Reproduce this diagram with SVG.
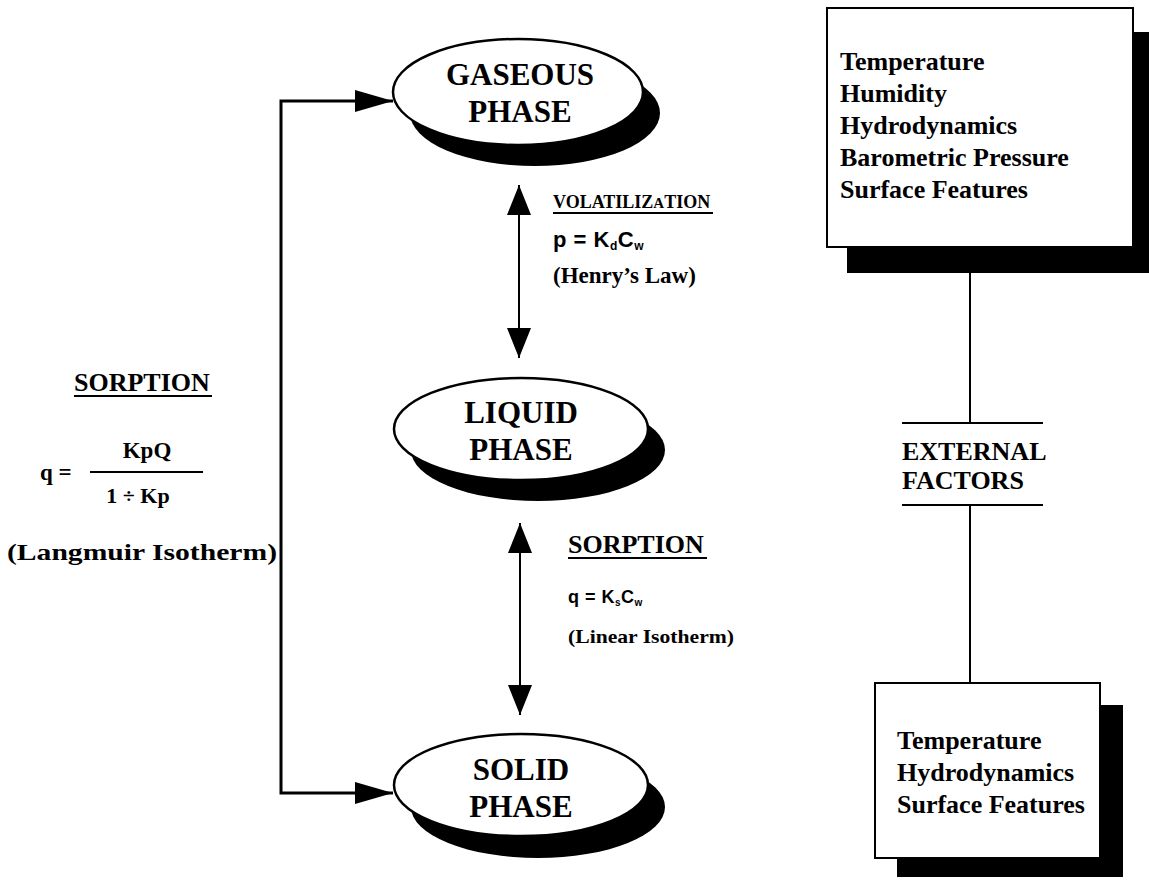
<svg xmlns="http://www.w3.org/2000/svg" width="1149" height="881" viewBox="0 0 1149 881">
<style>
.serif{font-family:"Liberation Serif","Times New Roman",serif;font-weight:bold;fill:#000}
.sans{font-family:"Liberation Sans",Arial,sans-serif;font-weight:bold;fill:#000}
.ph{font-size:31px;text-anchor:middle}
.lst{font-size:26px}
.ln{stroke:#000;fill:none}
.shadow{fill:#000}
.oval{fill:#fff;stroke:#000;stroke-width:2.5}
.box{fill:#fff;stroke:#000;stroke-width:2}
</style>
<defs>
<marker id="ahL" viewBox="0 0 38 22" refX="38" refY="11" markerWidth="38" markerHeight="22" markerUnits="userSpaceOnUse" orient="auto-start-reverse"><path d="M0,0 L38,11 L0,22 z" fill="#000"/></marker>
<marker id="ahV" viewBox="0 0 30 24" refX="30" refY="12" markerWidth="30" markerHeight="24" markerUnits="userSpaceOnUse" orient="auto-start-reverse"><path d="M0,0 L30,12 L0,24 z" fill="#000"/></marker>
</defs>
<rect width="1149" height="881" fill="#fff"/>

<g id="connectors">
<path class="ln" stroke-width="3" d="M393,101 H281 V793 H393" marker-start="url(#ahL)" marker-end="url(#ahL)"/>
<line class="ln" stroke-width="2" x1="519" y1="185" x2="519" y2="358" marker-start="url(#ahV)" marker-end="url(#ahV)"/>
<line class="ln" stroke-width="2" x1="520" y1="523" x2="520" y2="715" marker-start="url(#ahV)" marker-end="url(#ahV)"/>
<line class="ln" stroke-width="2" x1="970" y1="247" x2="970" y2="423"/>
<line class="ln" stroke-width="2" x1="902" y1="423" x2="1043" y2="423"/>
<line class="ln" stroke-width="2" x1="902" y1="505" x2="1043" y2="505"/>
<line class="ln" stroke-width="2" x1="970" y1="505" x2="970" y2="683"/>
</g>

<g id="gaseous">
<ellipse class="shadow" cx="535" cy="113" rx="125" ry="53"/>
<ellipse class="oval" cx="518" cy="92" rx="125" ry="53"/>
<text class="serif ph" x="520" y="85">GASEOUS</text>
<text class="serif ph" x="520" y="122">PHASE</text>
</g>

<g id="liquid">
<ellipse class="shadow" cx="538" cy="450" rx="127" ry="51"/>
<ellipse class="oval" cx="521" cy="429" rx="127" ry="51"/>
<text class="serif ph" x="521" y="423">LIQUID</text>
<text class="serif ph" x="521" y="460">PHASE</text>
</g>

<g id="solid">
<ellipse class="shadow" cx="538" cy="807" rx="127" ry="51"/>
<ellipse class="oval" cx="521" cy="785" rx="127" ry="51"/>
<text class="serif ph" x="521" y="780">SOLID</text>
<text class="serif ph" x="521" y="817">PHASE</text>
</g>

<g id="volatilization">
<text class="serif" x="553" y="208" font-size="18">VOLATILIZ<tspan font-size="15">A</tspan>TION</text>
<line class="ln" stroke-width="2" x1="553" y1="213" x2="713" y2="213"/>
<text class="sans" x="553" y="247" font-size="22" letter-spacing="0.5">p = K<tspan font-size="12" dy="3">d</tspan><tspan dy="-3">C</tspan><tspan font-size="12" dy="3">w</tspan></text>
<text class="serif" x="553" y="283" font-size="23">(Henry’s Law)</text>
</g>

<g id="sorption-mid">
<text class="serif" x="568" y="553" font-size="26">SORPTION</text>
<line class="ln" stroke-width="2" x1="568" y1="558" x2="707" y2="558"/>
<text class="sans" x="568" y="603" font-size="18" letter-spacing="0.5">q = K<tspan font-size="10" dy="3">s</tspan><tspan dy="-3">C</tspan><tspan font-size="10" dy="3">w</tspan></text>
<text class="serif" x="568" y="643" font-size="19" textLength="166" lengthAdjust="spacingAndGlyphs">(Linear Isotherm)</text>
</g>

<g id="sorption-left">
<text class="serif" x="74" y="391" font-size="26">SORPTION</text>
<line class="ln" stroke-width="2" x1="74" y1="396" x2="212" y2="396"/>
<text class="serif" x="40" y="480" font-size="23">q =</text>
<text class="serif" x="147" y="458" font-size="23" text-anchor="middle">KpQ</text>
<line class="ln" stroke-width="2" x1="90" y1="472" x2="203" y2="472"/>
<text class="serif" x="138" y="503" font-size="22" text-anchor="middle">1 ÷ Kp</text>
<text class="serif" x="7" y="560" font-size="24" textLength="270" lengthAdjust="spacingAndGlyphs">(Langmuir Isotherm)</text>
</g>

<g id="factors-top">
<rect class="shadow" x="847" y="32" width="306" height="241"/>
<rect class="box" x="827" y="8" width="306" height="239"/>
<text class="serif lst" x="840" y="70">Temperature</text>
<text class="serif lst" x="840" y="102">Humidity</text>
<text class="serif lst" x="840" y="134">Hydrodynamics</text>
<text class="serif lst" x="840" y="166">Barometric Pressure</text>
<text class="serif lst" x="840" y="198">Surface Features</text>
</g>

<g id="external">
<text class="serif" x="902" y="460" font-size="26">EXTERNAL</text>
<text class="serif" x="902" y="489" font-size="26">FACTORS</text>
</g>

<g id="factors-bottom">
<rect class="shadow" x="897" y="705" width="226" height="172"/>
<rect class="box" x="875" y="683" width="225" height="175"/>
<text class="serif lst" x="897" y="749">Temperature</text>
<text class="serif lst" x="897" y="781">Hydrodynamics</text>
<text class="serif lst" x="897" y="813">Surface Features</text>
</g>
</svg>
